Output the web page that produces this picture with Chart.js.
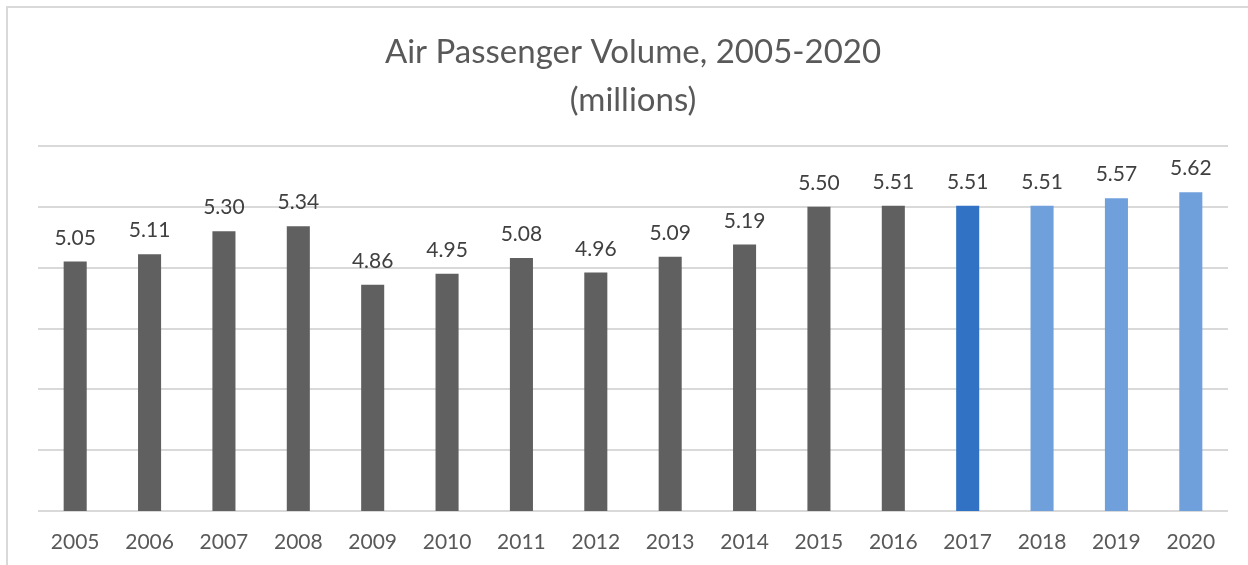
<!DOCTYPE html>
<html>
<head>
<meta charset="utf-8">
<script src="https://cdn.jsdelivr.net/npm/chart.js@4.4.0/dist/chart.umd.min.js"></script>
<style>
  html, body { margin: 0; padding: 0; background: #fff; }
  #wrap { position: relative; width: 1248px; height: 565px; overflow: hidden; }
  #frame { position: absolute; left: 6px; top: 6px; width: 1300px; height: 620px;
           border-left: 2px solid #d9d9d9; border-top: 2px solid #d9d9d9; }
  canvas { position: absolute; left: 0; top: 0; }
</style>
</head>
<body>
<div id="wrap">
  <div id="frame"></div>
  <canvas id="volumeChart" width="1248" height="565"></canvas>
</div>
<script>
// Air passenger volume per year, millions
const years = ['2005','2006','2007','2008','2009','2010','2011','2012',
               '2013','2014','2015','2016','2017','2018','2019','2020'];
const volumes = [5.05, 5.11, 5.30, 5.34, 4.86, 4.95, 5.08, 4.96,
                 5.09, 5.19, 5.50, 5.51, 5.51, 5.51, 5.57, 5.62];
const titleLines = ['Air Passenger Volume, 2005-2020', '(millions)'];

// bar colours: history grey, current year dark blue, forecast light blue
const barColors = years.map(y => {
    if (y === '2017') return '#3272c4';
    if (+y > 2017) return '#70a0dc';
    return '#606060';
});

const FONT = 'Lato, "Open Sans", sans-serif';

// value labels drawn above each bar
const valueLabels = {
    id: 'valueLabels',
    afterDatasetsDraw(chart) {
        const ctx = chart.ctx;
        const meta = chart.getDatasetMeta(0);
        ctx.save();
        ctx.font = '21px ' + FONT;
        ctx.fillStyle = '#404040';
        ctx.textAlign = 'center';
        ctx.textBaseline = 'alphabetic';
        meta.data.forEach((bar, i) => {
            ctx.fillText(volumes[i].toFixed(2), bar.x, bar.y - 17);
        });
        ctx.restore();
    }
};

new Chart(document.getElementById('volumeChart'), {
    type: 'bar',
    data: {
        labels: years,
        datasets: [{
            data: volumes,
            backgroundColor: barColors,
            barPercentage: 0.31,
            categoryPercentage: 1.0
        }]
    },
    options: {
        responsive: false,
        animation: false,
        layout: { padding: { left: 38, right: 20, top: 0, bottom: 0 } },
        plugins: {
            legend: { display: false },
            tooltip: { enabled: false },
            title: {
                display: true,
                text: titleLines,
                color: '#595959',
                font: { family: FONT, size: 33, weight: 'normal', lineHeight: 1.455 },
                padding: { top: 28, bottom: 22 }
            }
        },
        scales: {
            x: {
                grid: { display: false, drawTicks: false },
                border: { display: false },
                ticks: { color: '#595959', font: { family: FONT, size: 21 }, padding: 19 },
                afterFit(scale) { scale.height = 54; }
            },
            y: {
                min: 3,
                max: 6,
                ticks: { display: false, stepSize: 0.5 },
                grid: { color: '#d9d9d9', lineWidth: 2, drawTicks: false },
                border: { display: false },
                afterFit(scale) { scale.width = 0; }
            }
        }
    },
    plugins: [valueLabels]
});
</script>
</body>
</html>
